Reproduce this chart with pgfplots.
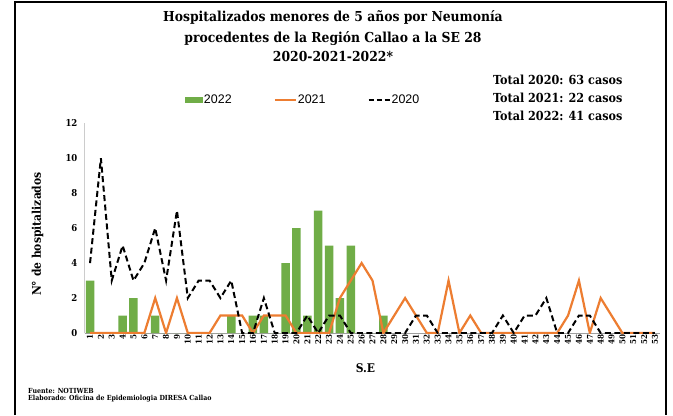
\documentclass[border=0pt]{standalone}
\usepackage{fontspec}
\setmainfont{DejaVu Serif Condensed}
\newfontfamily\legfont{Liberation Sans}
\usepackage{pgfplots}
\usepackage{pgfplotstable}
\pgfplotsset{compat=1.18}
\definecolor{g22}{HTML}{70AD47}
\definecolor{o21}{HTML}{ED7D31}

\pgfplotstableread{
w v
1 3
2 0
3 0
4 1
5 2
6 0
7 1
8 0
9 0
10 0
11 0
12 0
13 0
14 1
15 0
16 1
17 1
18 0
19 4
20 6
21 1
22 7
23 5
24 2
25 5
26 0
27 0
28 1
}\tA

\pgfplotstableread{
w v
1 0
2 0
3 0
4 0
5 0
6 0
7 2
8 0
9 2
10 0
11 0
12 0
13 1
14 1
15 1
16 0
17 1
18 1
19 1
20 0
21 0
22 0
23 0
24 2
25 3
26 4
27 3
28 0
29 1
30 2
31 1
32 0
33 0
34 3
35 0
36 1
37 0
38 0
39 0
40 0
41 0
42 0
43 0
44 0
45 1
46 3
47 0
48 2
49 1
50 0
51 0
52 0
53 0
}\tB

\pgfplotstableread{
w v
1 4
2 10
3 3
4 5
5 3
6 4
7 6
8 3
9 7
10 2
11 3
12 3
13 2
14 3
15 0
16 0
17 2
18 0
19 0
20 0
21 1
22 0
23 1
24 1
25 0
26 0
27 0
28 0
29 0
30 0
31 1
32 1
33 0
34 0
35 0
36 0
37 0
38 0
39 1
40 0
41 1
42 1
43 2
44 0
45 0
46 1
47 1
48 0
49 0
50 0
51 0
52 0
53 0
}\tC

\begin{document}
\begin{tikzpicture}[x=1bp,y=1bp]
\useasboundingbox (0,0) rectangle (673,415);
\fill[white] (0,0) rectangle (673,415);
\draw[line width=2bp] (15,0) -- (15,413) -- (666,413) -- (666,0);

\node[anchor=base, font=\bfseries\fontsize{13.8}{16}\selectfont] at (333,393) {Hospitalizados menores de 5 años por Neumonía};
\node[anchor=base, font=\bfseries\fontsize{13.8}{16}\selectfont] at (333,373) {procedentes de la Región Callao a la SE 28};
\node[anchor=base, font=\bfseries\fontsize{13.8}{16}\selectfont] at (333,354) {2020-2021-2022*};

\node[anchor=base west, inner sep=0, font=\bfseries\fontsize{12.5}{14}\selectfont] at (493,331) {Total 2020: 63 casos};
\node[anchor=base west, inner sep=0, font=\bfseries\fontsize{12.5}{14}\selectfont] at (493,313) {Total 2021: 22 casos};
\node[anchor=base west, inner sep=0, font=\bfseries\fontsize{12.5}{14}\selectfont] at (493,295) {Total 2022: 41 casos};

\node[anchor=base west, inner sep=0, font=\bfseries\fontsize{7}{7}\selectfont] at (28,22) {Fuente: NOTIWEB};
\node[anchor=base west, inner sep=0, font=\bfseries\fontsize{7}{7}\selectfont] at (28,15) {Elaborado: Oficina de Epidemiologia DIRESA Callao};

\begin{axis}[
  at={(84.6bp,82bp)}, anchor=south west,
  scale only axis, width=575.8bp, height=209.8bp,
  xmin=0.5, xmax=53.5, ymin=0, ymax=12,
  xtick={1,...,53}, ytick={0,2,...,12},
  axis x line=bottom, axis y line=left,
  x axis line style={-, draw=gray!75, line width=0.8bp},
  y axis line style={-, draw=gray!40, line width=0.8bp},
  major tick length=0pt,
  /pgf/number format/assume math mode=true,
  x tick label style={rotate=90, anchor=east, inner sep=1.5bp, font=\bfseries\fontsize{8}{8}\selectfont},
  y tick label style={inner sep=0bp, xshift=-7bp, font=\bfseries\fontsize{9.5}{10}\selectfont},
  xlabel={S.E}, ylabel={N° de hospitalizados},
  every axis x label/.style={at={(axis description cs:0.5,0)}, xshift=-7bp, yshift=-35bp, anchor=center, font=\bfseries\fontsize{12}{12}\selectfont},
  every axis y label/.style={at={(axis description cs:0,0.5)}, xshift=-47bp, yshift=-6bp, rotate=90, anchor=center, font=\bfseries\fontsize{12}{12}\selectfont},
  legend columns=3,
  legend style={at={(0.174,1.11)}, anchor=west, draw=none, fill=none, inner sep=0pt,
    font=\legfont\fontsize{12.5}{13}\selectfont,
    nodes={inner sep=1bp},
    /tikz/every even column/.append style={column sep=41bp}},
]
\addplot[ybar, bar width=8.5bp, fill=g22, draw=none,
  legend image code/.code={\fill[g22] (0bp,-3bp) rectangle (18bp,3bp);}]
  table[x=w,y=v] {\tA};
\addplot[o21, line width=2.2bp, mark=none,
  legend image code/.code={\draw[o21, line width=2.2bp] (0bp,0bp) -- (21bp,0bp);}]
  table[x=w,y=v] {\tB};
\addplot[black, line width=2bp, dash pattern=on 6bp off 3.5bp, mark=none,
  legend image code/.code={\draw[black, line width=2bp, dash pattern=on 5bp off 3bp] (0bp,0bp) -- (21bp,0bp);}]
  table[x=w,y=v] {\tC};
\legend{2022,2021,2020}
\end{axis}
\end{tikzpicture}
\end{document}
